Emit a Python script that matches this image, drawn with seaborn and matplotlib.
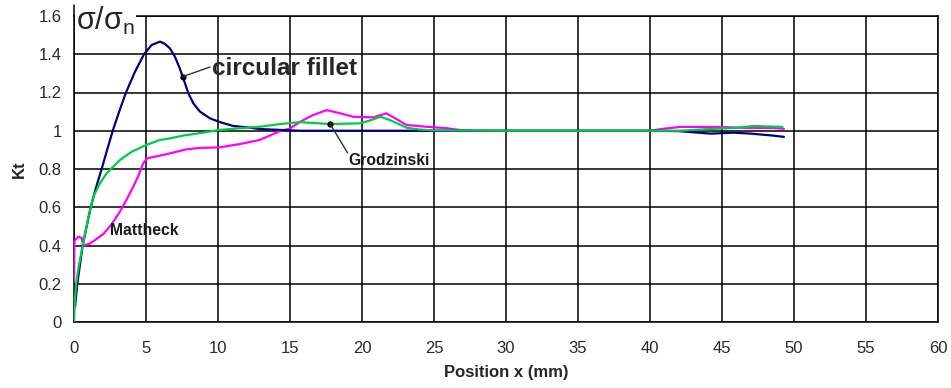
import matplotlib
matplotlib.use("Agg")
import matplotlib.pyplot as plt
import seaborn as sns
import pandas as pd

# ---------------- data ----------------
fillet_x = [0.07, 0.23, 0.6, 1.16, 1.5, 1.92, 2.3, 2.69, 3.15, 3.61, 4.2, 4.86, 5.4, 5.97, 6.3, 6.67, 7.01, 7.3,
            7.55, 7.94, 8.29, 8.75, 9.44, 10.14, 11.06, 12.0, 12.9, 15.0, 15.7, 20, 25, 30, 35, 40, 42, 44.2,
            45.8, 47, 48.5, 49.3]
fillet_y = [0.08, 0.20, 0.40, 0.60, 0.695, 0.80, 0.90, 1.00, 1.103, 1.20, 1.303, 1.40, 1.449, 1.466, 1.455, 1.43,
            1.387, 1.335, 1.283, 1.196, 1.143, 1.10, 1.065, 1.045, 1.025, 1.018, 1.009, 1.002, 1.0, 1.0, 1.0, 1.0,
            1.0, 1.0, 0.998, 0.985, 0.99, 0.985, 0.975, 0.968]

grod_x = [0.0, 0.05, 0.15, 0.35, 0.6, 0.95, 1.34, 1.8, 2.27, 3.19, 4.0, 5.0, 5.97, 6.67, 7.6, 8.7, 10.07, 11.5,
          12.9, 14.3, 15.7, 17.8, 19.9, 20.6, 21.25, 21.8, 22.2, 23.1, 24.0, 25, 30, 35, 40, 42, 44.4, 46, 47.2,
          49.2]
grod_y = [0.0, 0.10, 0.20, 0.30, 0.40, 0.53, 0.655, 0.725, 0.778, 0.847, 0.89, 0.925, 0.952, 0.96, 0.975, 0.987,
          1.004, 1.013, 1.021, 1.035, 1.045, 1.035, 1.039, 1.055, 1.073, 1.06, 1.047, 1.016, 1.006, 1.002, 1.0, 1.0,
          1.0, 1.0, 1.01, 1.015, 1.025, 1.02]

matt_x = [0.0, 0.03, 0.1, 0.3, 0.53, 0.65, 1.11, 2.04, 2.6, 3.19, 3.65, 4.12, 4.5, 4.81, 5.09, 5.97, 6.67, 7.82,
          8.7, 10.07, 11.5, 12.9, 14.3, 15.0, 15.7, 16.6, 17.55, 18.5, 19.4, 20.8, 21.7, 22.3, 23.1, 24.3, 25.9,
          26.8, 28, 30, 35, 40, 40.9, 42.1, 44.9, 46.5, 48.5, 49.3]
matt_y = [0.21, 0.42, 0.43, 0.446, 0.44, 0.40, 0.41, 0.46, 0.51, 0.577, 0.64, 0.708, 0.77, 0.83, 0.856, 0.87,
          0.882, 0.903, 0.91, 0.913, 0.93, 0.952, 0.998, 1.012, 1.047, 1.082, 1.108, 1.091, 1.073, 1.07, 1.091,
          1.065, 1.03, 1.022, 1.013, 1.004, 1.0, 1.0, 1.0, 1.0, 1.01, 1.02, 1.02, 1.015, 1.015, 1.01]

x_ticks = [0, 5, 10, 15, 20, 25, 30, 35, 40, 45, 50, 55, 60]
y_ticks = [0, 0.2, 0.4, 0.6, 0.8, 1.0, 1.2, 1.4, 1.6]
y_tick_labels = ["0", "0.2", "0.4", "0.6", "0.8", "1", "1.2", "1.4", "1.6"]

# ---------------- style ----------------
sns.set_style("white")
plt.rcParams['font.family'] = ['Liberation Sans', 'DejaVu Sans']
plt.rcParams['mathtext.fontset'] = 'custom'
plt.rcParams['mathtext.rm'] = 'Liberation Sans'
plt.rcParams['mathtext.it'] = 'Liberation Sans'

fig = plt.figure(figsize=(9.51, 3.88), dpi=100)
ax = fig.add_axes([74 / 951, 66 / 388, (938 - 74) / 951, (322 - 16) / 388])

df_f = pd.DataFrame({"x": fillet_x, "y": fillet_y})
df_g = pd.DataFrame({"x": grod_x, "y": grod_y})
df_m = pd.DataFrame({"x": matt_x, "y": matt_y})

sns.lineplot(data=df_m, x="x", y="y", sort=False, color="#ff00ff", lw=1.6, ax=ax, zorder=3)
sns.lineplot(data=df_f, x="x", y="y", sort=False, color="#000080", lw=1.6, ax=ax, zorder=4)
sns.lineplot(data=df_g, x="x", y="y", sort=False, color="#00cc44", lw=1.6, ax=ax, zorder=5)

ax.set_xlim(0, 60)
ax.set_ylim(0, 1.6)
ax.set_xticks(x_ticks)
ax.set_yticks(y_ticks)
ax.set_yticklabels(y_tick_labels)
ax.grid(True, color="black", lw=1.1)
ax.set_axisbelow(True)
for s in ax.spines.values():
    s.set_color("black")
    s.set_linewidth(1.1)
ax.tick_params(axis="both", direction="out", length=5, width=1, color="black",
               labelsize=12, labelcolor="#2a2a2a")
ax.tick_params(axis="x", pad=9)
ax.tick_params(axis="y", pad=4)

ax.set_xlabel("Position x (mm)", fontsize=12, fontweight="bold", labelpad=6)
ax.set_ylabel("Kt", fontsize=12, fontweight="bold", labelpad=8)

# annotations
ax.plot([7.55], [1.283], "o", color="black", ms=3.5, zorder=6)
ax.plot([7.55, 9.44], [1.283, 1.333], color="#333333", lw=1.0, zorder=6)
ax.text(9.58, 1.328, "circular fillet", fontsize=17.5, fontweight="bold", va="center", ha="left", zorder=7)

ax.plot([17.78], [1.036], "o", color="black", ms=3.5, zorder=6)
ax.plot([17.78, 19.0], [1.036, 0.884], color="#333333", lw=1.0, zorder=6)
ax.text(19.03, 0.847, "Grodzinski", fontsize=11.3, fontweight="bold", va="center", ha="left",
        color="#1a1a1a", zorder=7)

ax.text(2.5, 0.476, "Mattheck", fontsize=11.3, fontweight="bold", va="center", ha="left",
        color="#1a1a1a", zorder=7)

ax.text(0.15, 1.575, r"$\sigma/\sigma_n$", fontsize=22, va="center", ha="left", zorder=8,
        bbox=dict(facecolor="white", edgecolor="none", pad=1.0))
ax.plot([0, 0], [1.6, 1.66], color="black", lw=1.1, clip_on=False, zorder=9)

fig.savefig("out.png", dpi=100)
